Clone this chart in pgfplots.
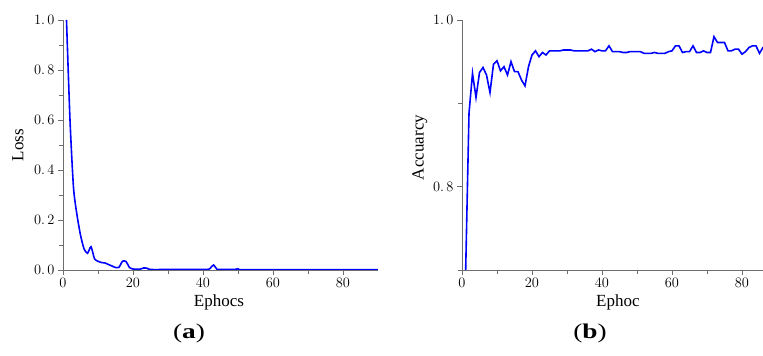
\documentclass[border=0pt]{standalone}
\usepackage{fontspec}
\setmainfont{Liberation Serif}
\usepackage{pgfplots}
\pgfplotsset{compat=1.18}
\definecolor{axgray}{RGB}{110,110,110}
\begin{document}
\begin{tikzpicture}
\path[use as bounding box] (0pt,0pt) rectangle (763pt,356pt);
\pgfplotsset{
  common/.style={
    scale only axis, axis lines=left,
    axis line style={-, draw=axgray, line width=0.8pt},
    every tick/.style={axgray, line width=0.7pt},
    tick align=outside, major tick length=5pt, minor tick length=4pt,
    tick label style={font=\fontsize{13.5}{15}\selectfont, text=black},
    label style={font=\fontsize{17}{20}\selectfont},
    height=250pt,
    xtick={0,20,40,60,80}, minor xtick={10,30,50,70},
  }
}
\begin{axis}[common, anchor=south west, at={(63pt,86pt)},
  width=315pt, xmin=0, xmax=90, ymin=0, ymax=1,
  ytick={0,0.2,0.4,0.6,0.8,1.0},
  yticklabels={$0.\,0$,$0.\,2$,$0.\,4$,$0.\,6$,$0.\,8$,$1.\,0$},
  minor ytick={0.1,0.3,0.5,0.7,0.9},
  xlabel={Ephocs}, ylabel={Loss},
  xlabel style={at={(axis description cs:0.495,-0.128)}, anchor=center},
  ylabel style={at={(axis description cs:-0.143,0.5)}, anchor=center},
]
\addplot[blue, line width=1.6pt, smooth, tension=0.4] coordinates {
(1,1.0) (2,0.6) (3,0.33) (4,0.22) (5,0.14) (6,0.085) (7,0.067) (8,0.093)
(9,0.045) (10,0.035) (11,0.03) (12,0.028) (13,0.022) (14,0.016) (15,0.010)
(16,0.011) (17,0.035) (18,0.034) (19,0.01) (20,0.004) (21,0.003) (22,0.003)
(23,0.008) (24,0.007) (25,0.002) (30,0.002) (35,0.002) (41,0.002) (42,0.006)
(43,0.02) (44,0.003) (45,0.002) (49,0.002) (50,0.005) (51,0.001) (60,0.001)
(70,0.001) (80,0.001) (90,0.001)
};
\end{axis}
\begin{axis}[common, anchor=south west, at={(462pt,86pt)},
  width=301pt, xmin=0, xmax=86, ymin=0.7, ymax=1,
  ytick={0.8,1.0},
  yticklabels={$0.\,8$,$1.\,0$},
  minor ytick={0.7,0.9},
  xlabel={Ephoc}, ylabel={Accuarcy},
  xlabel style={at={(axis description cs:0.518,-0.128)}, anchor=center},
  ylabel style={at={(axis description cs:-0.14,0.49)}, anchor=center},
]
\addplot[blue, line width=1.6pt] coordinates {
(1,0.690) (2,0.888) (3,0.936) (4,0.907) (5,0.937) (6,0.943) (7,0.934) (8,0.913)
(9,0.947) (10,0.951) (11,0.939) (12,0.944) (13,0.934) (14,0.950) (15,0.938)
(16,0.938) (17,0.928) (18,0.921) (19,0.944) (20,0.958) (21,0.963) (22,0.956)
(23,0.961) (24,0.958) (25,0.963) (26,0.963) (27,0.963) (28,0.963) (29,0.964)
(30,0.964) (31,0.964) (32,0.963) (33,0.963) (34,0.963) (35,0.963) (36,0.963)
(37,0.965) (38,0.962) (39,0.964) (40,0.963) (41,0.963) (42,0.969) (43,0.962)
(44,0.962) (45,0.962) (46,0.961) (47,0.961) (48,0.962) (49,0.962) (50,0.962)
(51,0.962) (52,0.960) (53,0.960) (54,0.960) (55,0.961) (56,0.960) (57,0.960)
(58,0.960) (59,0.962) (60,0.963) (61,0.969) (62,0.969) (63,0.961) (64,0.962)
(65,0.962) (66,0.969) (67,0.961) (68,0.961) (69,0.963) (70,0.961) (71,0.961)
(72,0.980) (73,0.973) (74,0.973) (75,0.973) (76,0.963) (77,0.963) (78,0.965)
(79,0.965) (80,0.959) (81,0.962) (82,0.967) (83,0.969) (84,0.969) (85,0.960)
(86,0.967) (87,0.967)
};
\end{axis}
\node[font=\fontsize{21}{24}\selectfont] at (189pt,23pt) {\scalebox{1.3}[1]{(\textbf{a})}};
\node[font=\fontsize{21}{24}\selectfont] at (590pt,23pt) {\scalebox{1.3}[1]{(\textbf{b})}};
\end{tikzpicture}
\end{document}
